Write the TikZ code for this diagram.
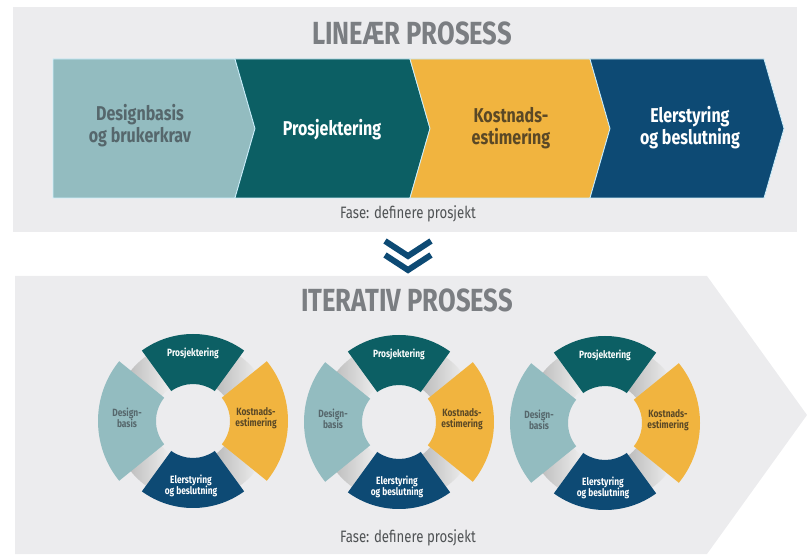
\documentclass[tikz,border=0pt]{standalone}
\usepackage{fontspec}
\setmainfont{Fira Sans}[FakeStretch=0.8]

\definecolor{panelgray}{HTML}{ECECEE}
\definecolor{titlegray}{HTML}{7B7E82}
\definecolor{notegray}{HTML}{4F5254}
\definecolor{basisblue}{HTML}{93BCC0}
\definecolor{prosjteal}{HTML}{0C5F64}
\definecolor{kostyellow}{HTML}{F1B43F}
\definecolor{elernavy}{HTML}{0D4A74}
\definecolor{basistext}{HTML}{56676C}
\definecolor{kosttext}{HTML}{5A4826}

\tikzset{
	phase/.style={fill=#1, draw=white!80!cyan, line width=.8pt},
	steptext/.style={font=\bfseries\fontsize{20}{22}\selectfont, align=center},
	ringtext/.style={font=\bfseries\fontsize{10.5}{11}\selectfont, align=center},
	headline/.style={font=\bfseries\fontsize{32}{33}\selectfont, text=titlegray},
	phasenote/.style={font=\fontsize{16.5}{17}\selectfont, text=notegray},
	link/.style={left color=gray!60, right color=gray!6},
}

% one iteration wheel, #1 = name prefix, #2 = centre
\newcommand\wheel[2]{%
	\begin{scope}[shift={#2}]
		\foreach \a in {45,135,225,315}
			\shade[link] ({\a-24}:40) arc[start angle=\a-24, end angle=\a+24, radius=40]
				-- ({\a+24}:80) arc[start angle=\a+24, end angle=\a-24, radius=80] -- cycle;
		\fill[prosjteal] (54:37) arc[start angle=54, end angle=126, radius=37]
			-- (126:87) arc[start angle=126, end angle=54, radius=87] -- cycle;
		\fill[kostyellow] (-39:37) arc[start angle=-39, end angle=39, radius=37]
			-- (39:95) arc[start angle=39, end angle=-39, radius=95] -- cycle;
		\fill[elernavy] (234:37) arc[start angle=234, end angle=306, radius=37]
			-- (306:87) arc[start angle=306, end angle=234, radius=87] -- cycle;
		\fill[basisblue] (141:37) arc[start angle=141, end angle=219, radius=37]
			-- (219:95) arc[start angle=219, end angle=141, radius=95] -- cycle;
		\node[ringtext, text=white] (#1p) at (0,68) {Prosjektering};
		\node[ringtext, text=basistext] (#1d) at (-66,3) {Design-\\basis};
		\node[ringtext, text=kosttext] (#1k) at (63,3) {Kostnads-\\estimering};
		\node[ringtext, text=white] (#1e) at (-2,-65) {Elerstyring\\og beslutning};
	\end{scope}}

\begin{document}
\begin{tikzpicture}[x=1pt, y=1pt]
	\useasboundingbox (0,0) rectangle (808,554);
	% linear
	\fill[panelgray] (13,322) rectangle (797,547);
	\node[headline] (lintitle) at (412,521) {LINEÆR PROSESS};
	\draw[phase=basisblue] (53,495) -- (235,495) -- (255,425.5) -- (235,356) -- (53,356) -- cycle;
	\draw[phase=prosjteal] (235,495) -- (410,495) -- (430,425.5) -- (410,356) -- (235,356) -- (255,425.5) -- cycle;
	\draw[phase=kostyellow] (410,495) -- (590,495) -- (610,425.5) -- (590,356) -- (410,356) -- (430,425.5) -- cycle;
	\draw[phase=elernavy] (590,495) -- (764,495) -- (784,425.5) -- (764,356) -- (590,356) -- (610,425.5) -- cycle;
	\node[steptext, text=basistext] (basis) at (140,428) {Designbasis\\og brukerkrav};
	\node[steptext, text=white] (prosj) at (332,424) {Prosjektering};
	\node[steptext, text=kosttext] (kost) at (511,426) {Kostnads-\\estimering};
	\node[steptext, text=white] (eler) at (690,426) {Elerstyring\\og beslutning};
	\node[phasenote] (linnote) at (408,340) {Fase: definere prosjekt};

	% down marks
	\draw[elernavy, line width=6pt] (385,313) -- (408,298) -- (431,313);
	\draw[elernavy, line width=6pt] (385,299) -- (408,284) -- (431,299);

	% iterative
	\fill[panelgray] (15,278) -- (707,278) -- (807,139) -- (707,0) -- (15,0) -- cycle;
	\node[headline] (ittitle) at (407,254) {ITERATIV PROSESS};
	\wheel{a}{(193,133)}
	\wheel{b}{(399,132)}
	\wheel{c}{(605,131)}
	\node[phasenote] (itnote) at (408,16) {Fase: definere prosjekt};
\end{tikzpicture}
\end{document}
